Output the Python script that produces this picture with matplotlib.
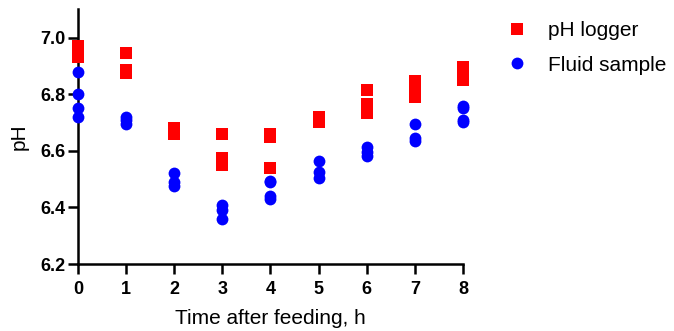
import matplotlib
matplotlib.use("Agg")
import matplotlib.pyplot as plt

plt.rcParams['font.family'] = ['Liberation Sans', 'DejaVu Sans']

# hours after feeding, one entry per replicate reading
logger_t = [0, 0, 0, 0, 1, 1, 1, 2, 2, 2, 3, 3, 3, 3, 4, 4, 4,
            5, 5, 5, 6, 6, 6, 6, 7, 7, 7, 7, 8, 8, 8, 8]
logger_ph = [6.97, 6.95, 6.94, 6.93, 6.945, 6.885, 6.875, 6.68, 6.67, 6.66,
             6.66, 6.575, 6.565, 6.55, 6.66, 6.65, 6.54,
             6.72, 6.71, 6.70, 6.815, 6.765, 6.75, 6.735,
             6.845, 6.83, 6.81, 6.79, 6.895, 6.88, 6.865, 6.85]

fluid_t = [0, 0, 0, 0, 1, 1, 1, 2, 2, 2, 3, 3, 3, 4, 4, 4, 4,
           5, 5, 5, 6, 6, 6, 7, 7, 7, 8, 8, 8, 8]
fluid_ph = [6.88, 6.80, 6.75, 6.72, 6.72, 6.71, 6.695, 6.52, 6.49, 6.475,
            6.41, 6.39, 6.36, 6.495, 6.49, 6.44, 6.43,
            6.565, 6.525, 6.505, 6.615, 6.595, 6.58,
            6.695, 6.645, 6.635, 6.76, 6.75, 6.71, 6.70]

xticks = [0, 1, 2, 3, 4, 5, 6, 7, 8]
yticks = [6.2, 6.4, 6.6, 6.8, 7.0]

fig = plt.figure(figsize=(6.74, 3.31), dpi=100)
ax = fig.add_axes([0.1157, 0.2024, 0.5712, 0.7696])

ax.plot(logger_t, logger_ph, 's', color='#ff0000', markersize=8.2,
        markeredgewidth=0, label='pH logger', clip_on=False, zorder=3)
ax.plot(fluid_t, fluid_ph, 'o', color='#0000ff', markersize=8.5,
        markeredgewidth=0, label='Fluid sample', clip_on=False, zorder=3)

ax.set_xlim(0, 8)
ax.set_ylim(6.2, 7.1)
ax.set_xticks(xticks)
ax.set_yticks(yticks)
ax.set_yticklabels([f"{v:.1f}" for v in yticks])

for side in ['top', 'right']:
    ax.spines[side].set_visible(False)
for side in ['left', 'bottom']:
    ax.spines[side].set_linewidth(1.8)
ax.tick_params(width=1.8, length=7, labelsize=13, direction='out')
ax.tick_params(axis='x', pad=5)
ax.tick_params(axis='y', pad=2)
for lbl in ax.get_xticklabels() + ax.get_yticklabels():
    lbl.set_fontweight('bold')

ax.set_xlabel('Time after feeding, h', fontsize=15, labelpad=8)
ax.set_ylabel('pH', fontsize=15, labelpad=8)

fig.legend(loc='upper left', bbox_to_anchor=(0.724, 0.962), frameon=False,
           fontsize=15, borderaxespad=0, handlelength=2.0,
           handletextpad=0.5, labelspacing=0.75)

fig.savefig('out.png', dpi=100)
